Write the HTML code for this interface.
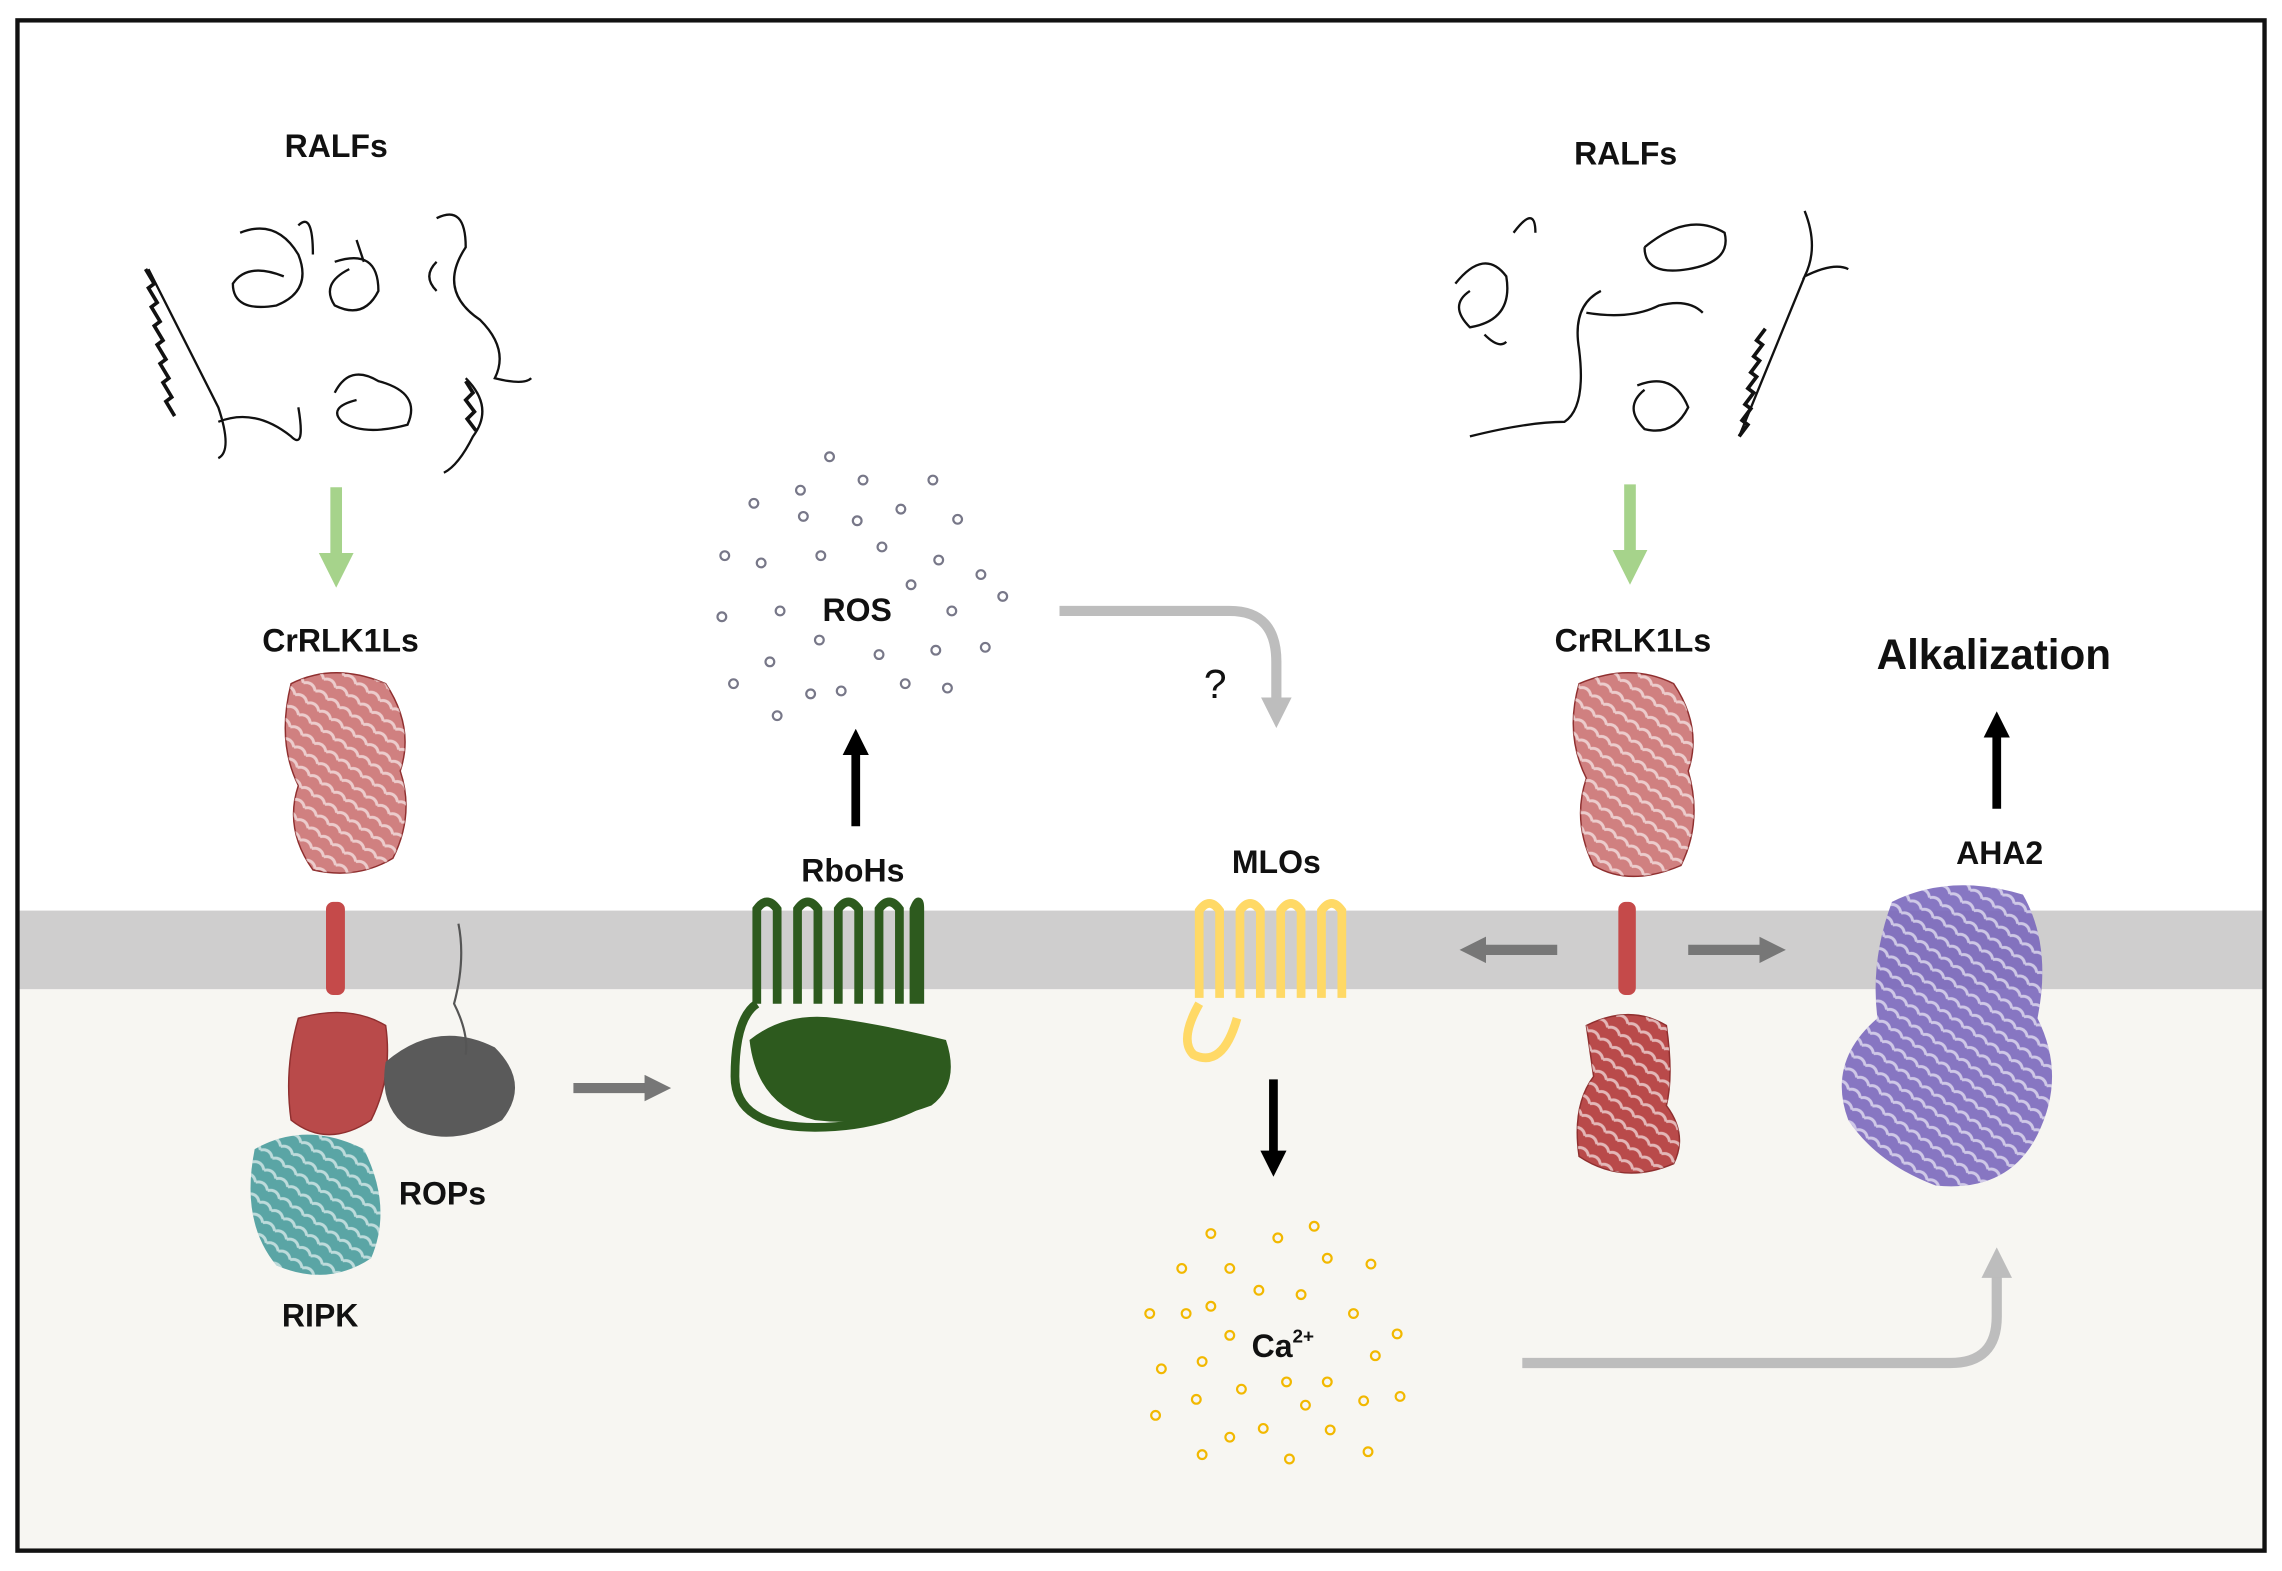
<!DOCTYPE html>
<html><head><meta charset="utf-8"><style>
html,body{margin:0;padding:0;background:#fff;}
svg{display:block;}
text{font-family:"Liberation Sans",sans-serif;font-weight:bold;fill:#111;}
</style></head><body>
<svg width="2282" height="1571" viewBox="0 0 1568 1080" preserveAspectRatio="none" xmlns="http://www.w3.org/2000/svg">
<defs>
<marker id="ag" viewBox="0 0 10 10" refX="5" refY="5" markerWidth="3" markerHeight="3" orient="auto"><path d="M0,0L10,5L0,10z" fill="#a6d38b"/></marker>
<marker id="ab" viewBox="0 0 10 10" refX="5" refY="5" markerWidth="3" markerHeight="3" orient="auto"><path d="M0,0L10,5L0,10z" fill="#000"/></marker>
<marker id="ad" viewBox="0 0 10 10" refX="5" refY="5" markerWidth="2.6" markerHeight="2.6" orient="auto"><path d="M0,0L10,5L0,10z" fill="#777"/></marker>
<marker id="al" viewBox="0 0 10 10" refX="5" refY="5" markerWidth="3" markerHeight="3" orient="auto"><path d="M0,0L10,5L0,10z" fill="#bdbdbd"/></marker>
<pattern id="rib" width="10" height="10" patternUnits="userSpaceOnUse" patternTransform="rotate(35)"><rect width="10" height="10" fill="none"/><path d="M0,5 Q5,0 10,5" stroke="#fff" stroke-width="2" fill="none" opacity="0.6"/></pattern>
</defs>
<rect x="0" y="0" width="1568" height="1080" fill="#fff"/>
<rect x="12" y="680" width="1544" height="386" fill="#f7f6f2"/>
<rect x="12" y="626" width="1544" height="54" fill="#cfcece"/>
<rect x="12" y="14" width="1544" height="1052" fill="none" stroke="#111" stroke-width="3"/>

<g fill="none" stroke="#111" stroke-width="1.6">
<path d="M102,185 L150,280 Q160,310 150,315 M150,290 Q175,280 200,300 Q210,310 205,280"/>
<path d="M100,185 l6,10 l-4,3 l6,10 l-4,3 l6,10 l-4,3 l6,10 l-4,3 l6,10 l-4,3 l6,10 l-4,3 l6,10 l-4,3 l6,10" stroke-width="2.5"/>
<path d="M165,160 Q190,150 205,175 Q215,200 190,210 Q160,215 160,195 Q170,180 195,190 M205,155 Q215,145 215,175"/>
<path d="M230,180 Q260,170 260,200 Q250,220 230,210 Q220,195 240,185 M245,165 l5,15"/>
<path d="M230,270 Q240,250 260,262 Q290,270 280,292 Q250,300 235,290 Q225,280 245,275"/>
<path d="M300,150 Q320,140 320,170 Q300,200 330,220 Q350,240 340,260 Q360,265 365,260 M320,260 Q340,280 325,300 Q315,320 305,325 M300,200 Q290,190 300,180"/>
<path d="M320,262 l5,8 l-5,5 l6,8 l-5,5 l6,8" stroke-width="2.5"/>
</g>
<g fill="none" stroke="#111" stroke-width="1.6">
<path d="M1010,300 Q1050,290 1075,290 Q1090,280 1085,240 Q1080,210 1100,200 M1090,215 Q1120,220 1140,210 Q1160,205 1170,215"/>
<path d="M1000,195 Q1020,170 1035,190 Q1040,220 1010,225 Q995,210 1010,200 M1020,230 Q1030,240 1035,235 M1040,160 Q1055,140 1055,160"/>
<path d="M1130,170 Q1160,145 1185,160 Q1190,180 1160,185 Q1130,190 1130,170"/>
<path d="M1125,265 Q1150,255 1160,280 Q1150,300 1130,295 Q1115,280 1130,268"/>
<path d="M1240,145 Q1250,170 1240,190 Q1260,180 1270,185 M1240,190 L1195,300"/>
<path d="M1195,300 l6,-8 l-4,-3 l6,-8 l-4,-3 l6,-8 l-4,-3 l6,-8 l-4,-3 l6,-8 l-4,-3 l6,-8 l-4,-3 l6,-8" stroke-width="2.5"/>
</g>

<g stroke="#8f2f2f" stroke-width="1">
<path d="M200,470 Q230,455 265,470 Q285,500 275,530 Q285,560 270,590 Q245,605 215,598 Q195,570 205,540 Q190,510 200,470z" fill="#c46060" fill-opacity="0.8"/>
<path d="M205,700 Q240,690 265,705 Q270,740 255,770 Q225,790 200,770 Q195,735 205,700z" fill="#b94a4a"/>
<path d="M1085,470 Q1120,455 1150,470 Q1170,500 1160,530 Q1170,565 1155,595 Q1120,610 1095,595 Q1080,565 1090,535 Q1075,505 1085,470z" fill="#c46060" fill-opacity="0.8"/>
<path d="M1090,705 Q1120,690 1145,705 Q1150,740 1145,760 Q1160,780 1150,800 Q1115,815 1085,795 Q1080,760 1095,740z" fill="#b94a4a"/>
</g>
<g fill="url(#rib)">
<path d="M200,470 Q230,455 265,470 Q285,500 275,530 Q285,560 270,590 Q245,605 215,598 Q195,570 205,540 Q190,510 200,470z"/>
<path d="M1085,470 Q1120,455 1150,470 Q1170,500 1160,530 Q1170,565 1155,595 Q1120,610 1095,595 Q1080,565 1090,535 Q1075,505 1085,470z"/>
<path d="M1090,705 Q1120,690 1145,705 Q1150,740 1145,760 Q1160,780 1150,800 Q1115,815 1085,795 Q1080,760 1095,740z"/>
</g>
<rect x="224" y="620" width="13" height="64" rx="5" fill="#c54a4a"/>
<rect x="1112" y="620" width="12" height="64" rx="5" fill="#c54a4a"/>
<path d="M265,730 Q300,700 340,720 Q365,745 345,770 Q310,790 280,775 Q260,760 265,730z" fill="#5a5a5a"/>
<path d="M315,635 Q320,660 312,690 Q322,710 320,725" fill="none" stroke="#555" stroke-width="1.5"/>
<path d="M175,790 Q210,770 250,790 Q270,830 255,865 Q225,885 190,870 Q165,840 175,790z" fill="#5aa5a5"/>
<path d="M175,790 Q210,770 250,790 Q270,830 255,865 Q225,885 190,870 Q165,840 175,790z" fill="url(#rib)"/>

<g fill="none" stroke="#2d5a1e" stroke-width="6">
<path d="M520,690 L520,625 Q527,615 534,625 L534,690 M548,690 L548,625 Q555,615 562,625 L562,690 M576,690 L576,625 Q583,615 590,625 L590,690 M604,690 L604,625 Q611,615 618,625 L618,690 M628,690 L628,625 Q632,615 632,625 L632,690"/>
<path d="M520,690 Q505,700 505,740 Q505,775 560,775 Q600,775 630,760"/>
</g>
<path d="M515,715 Q540,695 575,700 Q610,705 650,715 Q660,745 640,760 Q600,775 560,770 Q520,760 515,715z" fill="#2d5a1e"/>

<g fill="none" stroke="#ffd966" stroke-width="6">
<path d="M824,686 L824,626 Q831,616 838,626 L838,686 M852,686 L852,626 Q859,616 866,626 L866,686 M880,686 L880,626 Q887,616 894,626 L894,686 M908,686 L908,626 Q915,616 922,626 L922,686"/>
<path d="M824,690 Q810,715 820,725 Q840,735 850,700"/>
</g>

<path d="M1300,620 Q1340,600 1390,615 Q1410,650 1400,700 Q1420,740 1400,780 Q1380,820 1330,815 Q1290,800 1270,770 Q1255,730 1290,700 Q1285,660 1300,620z" fill="#7a68bd" fill-opacity="0.9"/>
<path d="M1300,620 Q1340,600 1390,615 Q1410,650 1400,700 Q1420,740 1400,780 Q1380,820 1330,815 Q1290,800 1270,770 Q1255,730 1290,700 Q1285,660 1300,620z" fill="url(#rib)"/>

<line x1="231" y1="335" x2="231" y2="392" stroke="#a6d38b" stroke-width="8" marker-end="url(#ag)"/>
<line x1="1120" y1="333" x2="1120" y2="390" stroke="#a6d38b" stroke-width="8" marker-end="url(#ag)"/>
<line x1="588" y1="568" x2="588" y2="510" stroke="#000" stroke-width="6" marker-end="url(#ab)"/>
<line x1="1372" y1="556" x2="1372" y2="498" stroke="#000" stroke-width="6" marker-end="url(#ab)"/>
<line x1="875" y1="742" x2="875" y2="800" stroke="#000" stroke-width="6" marker-end="url(#ab)"/>
<line x1="394" y1="748" x2="452" y2="748" stroke="#777" stroke-width="7" marker-end="url(#ad)"/>
<line x1="1070" y1="653" x2="1012" y2="653" stroke="#777" stroke-width="7" marker-end="url(#ad)"/>
<line x1="1160" y1="653" x2="1218" y2="653" stroke="#777" stroke-width="7" marker-end="url(#ad)"/>
<path d="M728,420 L845,420 Q877,420 877,455 L877,490" fill="none" stroke="#bdbdbd" stroke-width="7" marker-end="url(#al)"/>
<path d="M1046,937 L1340,937 Q1372,937 1372,905 L1372,868" fill="none" stroke="#bdbdbd" stroke-width="7" marker-end="url(#al)"/>

<g fill="none" stroke="#778" stroke-width="1.5">
<circle cx="570" cy="314" r="3"/><circle cx="593" cy="330" r="3"/><circle cx="641" cy="330" r="3"/><circle cx="518" cy="346" r="3"/><circle cx="550" cy="337" r="3"/><circle cx="552" cy="355" r="3"/><circle cx="589" cy="358" r="3"/><circle cx="619" cy="350" r="3"/><circle cx="658" cy="357" r="3"/><circle cx="498" cy="382" r="3"/><circle cx="523" cy="387" r="3"/><circle cx="564" cy="382" r="3"/><circle cx="606" cy="376" r="3"/><circle cx="645" cy="385" r="3"/><circle cx="626" cy="402" r="3"/><circle cx="674" cy="395" r="3"/><circle cx="536" cy="420" r="3"/><circle cx="496" cy="424" r="3"/><circle cx="654" cy="420" r="3"/><circle cx="689" cy="410" r="3"/><circle cx="563" cy="440" r="3"/><circle cx="604" cy="450" r="3"/><circle cx="643" cy="447" r="3"/><circle cx="677" cy="445" r="3"/><circle cx="529" cy="455" r="3"/><circle cx="504" cy="470" r="3"/><circle cx="557" cy="477" r="3"/><circle cx="578" cy="475" r="3"/><circle cx="622" cy="470" r="3"/><circle cx="651" cy="473" r="3"/><circle cx="534" cy="492" r="3"/>
</g>
<g fill="none" stroke="#f2b800" stroke-width="1.5">
<circle cx="903" cy="843" r="3"/><circle cx="878" cy="851" r="3"/><circle cx="832" cy="848" r="3"/><circle cx="912" cy="865" r="3"/><circle cx="942" cy="869" r="3"/><circle cx="812" cy="872" r="3"/><circle cx="845" cy="872" r="3"/><circle cx="865" cy="887" r="3"/><circle cx="894" cy="890" r="3"/><circle cx="790" cy="903" r="3"/><circle cx="832" cy="898" r="3"/><circle cx="815" cy="903" r="3"/><circle cx="930" cy="903" r="3"/><circle cx="845" cy="918" r="3"/><circle cx="960" cy="917" r="3"/><circle cx="798" cy="941" r="3"/><circle cx="826" cy="936" r="3"/><circle cx="945" cy="932" r="3"/><circle cx="853" cy="955" r="3"/><circle cx="884" cy="950" r="3"/><circle cx="912" cy="950" r="3"/><circle cx="822" cy="962" r="3"/><circle cx="937" cy="963" r="3"/><circle cx="962" cy="960" r="3"/><circle cx="794" cy="973" r="3"/><circle cx="868" cy="982" r="3"/><circle cx="897" cy="966" r="3"/><circle cx="845" cy="988" r="3"/><circle cx="914" cy="983" r="3"/><circle cx="826" cy="1000" r="3"/><circle cx="886" cy="1003" r="3"/><circle cx="940" cy="998" r="3"/>
</g>

<g style="font-family:'DejaVu Sans','Liberation Sans',sans-serif">
<text x="231" y="108" font-size="22" text-anchor="middle">RALFs</text>
<text x="1117" y="113" font-size="22" text-anchor="middle">RALFs</text>
<text x="234" y="448" font-size="22" text-anchor="middle">CrRLK1Ls</text>
<text x="1122" y="448" font-size="22" text-anchor="middle">CrRLK1Ls</text>
<text x="589" y="427" font-size="22" text-anchor="middle">ROS</text>
<text x="835" y="480" font-size="28" text-anchor="middle" style="font-weight:normal">?</text>
<text x="586" y="606" font-size="22" text-anchor="middle">RboHs</text>
<text x="877" y="600" font-size="22" text-anchor="middle">MLOs</text>
<text x="1370" y="460" font-size="29" text-anchor="middle">Alkalization</text>
<text x="1374" y="594" font-size="22" text-anchor="middle">AHA2</text>
<text x="304" y="828" font-size="22" text-anchor="middle">ROPs</text>
<text x="220" y="912" font-size="22" text-anchor="middle">RIPK</text>
<text x="860" y="933" font-size="22">Ca<tspan font-size="13" dy="-10">2+</tspan></text>
</g>
</svg>
</body></html>
